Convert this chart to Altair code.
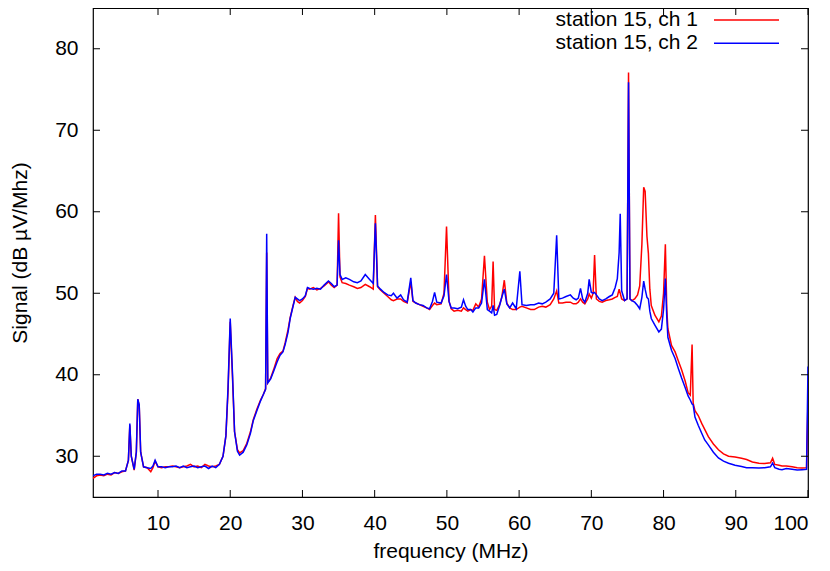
import altair as alt
import pandas as pd

freq = [1.0, 1.5, 2.0, 2.5, 3.0, 3.5, 4.0, 4.5, 5.0, 5.5, 5.9, 6.1, 6.3, 6.7, 7.0, 7.2, 7.4, 7.6,
        8.0, 8.5, 9.0, 9.3, 9.6, 10.0, 10.5, 11.0, 11.5, 12.0, 12.5, 13.0, 13.5, 14.0, 14.5,
        15.0, 15.5, 16.0, 16.5, 17.0, 17.5, 18.0, 18.5, 19.0, 19.4, 19.7, 20.0, 20.3, 20.6,
        21.0, 21.3, 21.8, 22.3, 22.8, 23.2, 23.7, 24.2, 24.6, 24.9, 25.05, 25.2, 25.6, 26.0,
        26.5, 26.9, 27.3, 27.6, 28.0, 28.3, 28.7, 29.0, 29.3, 29.6, 30.0, 30.4, 30.7, 31.0,
        31.5, 32.0, 32.5, 33.0, 33.6, 34.0, 34.4, 34.8, 35.0, 35.2, 35.5, 36.0, 36.5, 37.1,
        37.6, 38.1, 38.7, 39.3, 39.8, 40.1, 40.4, 40.8, 41.3, 41.8, 42.3, 42.6, 43.1, 43.6,
        44.0, 44.5, 45.0, 45.3, 45.7, 46.2, 46.7, 47.2, 47.6, 48.0, 48.3, 48.6, 49.2, 49.6,
        49.95, 50.3, 50.6, 51.0, 51.5, 52.0, 52.3, 52.6, 52.9, 53.3, 53.6, 54.0, 54.4, 54.8,
        55.2, 55.6, 55.9, 56.2, 56.4, 56.6, 56.9, 57.3, 57.6, 57.95, 58.3, 58.7, 59.1, 59.6,
        60.1, 60.4, 61.0, 61.6, 62.1, 62.7, 63.2, 63.7, 64.3, 64.8, 65.2, 65.5, 66.0, 66.5,
        67.1, 67.5, 67.9, 68.2, 68.5, 68.8, 69.1, 69.5, 69.7, 70.0, 70.25, 70.45, 70.7, 71.1,
        71.5, 72.0, 72.5, 72.9, 73.3, 73.6, 73.85, 74.0, 74.2, 74.6, 74.95, 75.15, 75.35,
        75.6, 76.0, 76.4, 76.7, 77.0, 77.25, 77.45, 77.7, 77.9, 78.1, 78.3, 78.8, 79.35,
        79.7, 80.0, 80.25, 80.45, 80.6, 81.1, 81.6, 82.0, 82.5, 83.0, 83.4, 83.7, 83.95,
        84.1, 84.35, 84.8, 85.3, 85.7, 86.2, 86.9, 87.6, 88.3, 89.0, 89.9, 90.8, 91.5, 92.3,
        93.2, 94.0, 94.8, 95.1, 95.4, 96.0, 96.4, 97.0, 97.8, 98.5, 99.2, 99.8, 100.0]

ch1 = [27.3, 27.6, 27.7, 27.6, 27.8, 27.7, 28.0, 27.9, 28.1, 28.2, 29.5, 33.8, 30.0, 28.3, 30.5, 37.0, 36.2, 30.5,
       28.7, 28.6, 28.1, 28.6, 29.4, 28.7, 28.6, 28.7, 28.7, 28.8, 28.7, 28.6, 28.7, 28.8, 29.0,
       28.7, 28.8, 28.6, 29.0, 28.8, 28.7, 28.8, 29.0, 30.0, 32.5, 38.0, 46.5, 40.0, 33.0,
       30.8, 30.4, 30.7, 31.6, 33.0, 34.5, 35.8, 36.9, 37.6, 38.3, 55.0, 39.0, 39.6, 40.6,
       42.0, 42.6, 42.9, 43.9, 45.5, 47.0, 48.5, 49.5, 49.0, 48.8, 49.1, 49.6, 50.6, 50.5,
       50.7, 50.4, 50.6, 50.9, 51.4, 51.0, 50.7, 51.0, 59.8, 52.0, 51.3, 51.2, 51.0, 50.8,
       50.6, 50.7, 51.1, 50.8, 50.5, 59.6, 50.8, 50.4, 50.0, 49.6, 49.2, 49.1, 49.3, 49.3,
       49.0, 48.8, 51.4, 49.0, 48.8, 48.6, 48.4, 48.2, 48.0, 48.5, 48.8, 48.6, 48.7, 50.0,
       58.2, 49.0, 48.1, 47.8, 47.9, 47.8, 48.2, 48.0, 47.8, 48.0, 47.9, 48.7, 48.3, 49.3,
       54.6, 48.9, 48.0, 48.4, 53.9, 48.0, 47.9, 48.6, 49.5, 51.6, 48.8, 48.2, 48.0, 48.0,
       48.3, 48.4, 48.2, 48.0, 48.0, 48.3, 48.4, 48.3, 48.6, 49.3, 50.3, 48.8, 48.8, 48.9,
       48.9, 48.7, 48.7, 48.9, 49.3, 48.9, 48.7, 49.3, 49.9, 49.4, 50.0, 54.7, 49.3, 49.0,
       48.9, 49.1, 49.2, 49.3, 49.5, 49.6, 50.5, 50.0, 49.3, 49.1, 49.3, 77.1, 49.3,
       49.1, 49.3, 49.8, 50.9, 56.0, 63.0, 62.5, 57.0, 54.9, 50.5, 48.5, 47.3, 46.5,
       47.2, 50.0, 56.0, 48.0, 45.65, 43.6, 42.8, 41.8, 40.6, 39.2, 37.8, 37.5, 43.7,
       36.5, 35.6, 35.0, 34.0, 33.3, 32.4, 31.5, 30.8, 30.3, 30.0, 29.9, 29.75, 29.6, 29.3,
       29.15, 29.1, 29.2, 29.75, 29.0, 28.9, 28.8, 28.8, 28.7, 28.6, 28.55, 28.6, 37.0]

ch2 = [27.6, 27.8, 27.8, 27.7, 27.9, 27.8, 28.0, 27.9, 28.2, 28.2, 29.5, 34.0, 30.0, 28.4, 30.5, 37.0, 36.3, 30.5,
       28.7, 28.6, 28.5, 28.8, 29.5, 28.7, 28.7, 28.6, 28.7, 28.7, 28.8, 28.6, 28.8, 28.6, 28.7,
       28.8, 28.6, 28.7, 28.8, 28.5, 28.8, 28.6, 29.0, 30.0, 32.5, 38.5, 46.9, 40.5, 33.0,
       30.6, 30.15, 30.5, 31.4, 32.8, 34.4, 35.6, 36.8, 37.6, 38.2, 57.3, 39.0, 39.5, 40.4,
       41.6, 42.4, 42.8, 43.7, 45.2, 46.9, 48.4, 49.5, 49.3, 49.1, 49.3, 49.7, 50.7, 50.6,
       50.5, 50.6, 50.5, 51.0, 51.5, 51.2, 50.8, 51.0, 56.5, 52.3, 51.7, 51.9, 51.7, 51.4,
       51.3, 51.5, 52.3, 51.7, 51.2, 58.6, 50.9, 50.5, 50.1, 49.8, 49.7, 50.0, 49.4, 49.8,
       49.2, 48.9, 51.9, 49.1, 48.8, 48.6, 48.5, 48.2, 48.1, 49.0, 50.1, 48.9, 48.8, 49.7,
       52.3, 49.0, 48.2, 48.2, 48.1, 48.3, 49.2, 48.4, 48.0, 48.0, 47.7, 48.2, 48.2, 48.8,
       51.7, 48.0, 47.8, 47.6, 48.5, 47.3, 47.4, 48.5, 49.5, 50.5, 48.7, 48.2, 48.8, 48.1,
       52.7, 48.6, 48.5, 48.6, 48.6, 48.8, 48.7, 48.9, 49.3, 50.0, 57.1, 49.3, 49.4, 49.6,
       49.8, 49.4, 49.2, 49.4, 50.6, 49.3, 48.9, 50.0, 51.7, 50.1, 50.0, 50.1, 49.8, 49.3,
       49.1, 49.3, 49.6, 49.8, 50.7, 51.8, 55.0, 59.75, 50.3, 49.1, 49.3, 75.9, 49.3,
       49.1, 48.9, 48.5, 48.1, 49.5, 51.5, 50.5, 49.5, 49.3, 47.8, 46.9, 46.1, 45.25,
       45.6, 48.0, 51.8, 47.0, 44.6, 43.0, 42.0, 40.9, 39.6, 38.4, 37.4, 36.9, 36.4,
       36.3, 34.8, 33.8, 32.8, 32.0, 31.4, 30.5, 29.8, 29.4, 29.15, 28.9, 28.75, 28.6, 28.6,
       28.55, 28.6, 28.7, 29.15, 28.6, 28.4, 28.35, 28.5, 28.4, 28.3, 28.35, 28.4, 41.0]

series_names = ["station 15, ch 1", "station 15, ch 2"]
series_colors = ["#ff0000", "#0000ff"]
x_ticks = [10, 20, 30, 40, 50, 60, 70, 80, 90, 100]
y_ticks = [30, 40, 50, 60, 70, 80]

rows = []
for i, f in enumerate(freq):
    rows.append({"freq": f, "signal": ch1[i], "series": series_names[0], "idx": i})
    rows.append({"freq": f, "signal": ch2[i], "series": series_names[1], "idx": i})
df = pd.DataFrame(rows)

W, H = 715, 489
FONT = "Liberation Sans"
FS = 21

xscale = alt.Scale(domain=[1, 100], nice=False, zero=False)
yscale = alt.Scale(domain=[25, 85], nice=False, zero=False)
cscale = alt.Scale(domain=series_names, range=series_colors)

lines = alt.Chart(df).mark_line(strokeWidth=1.5, clip=True).encode(
    x=alt.X("freq:Q", scale=xscale,
            axis=alt.Axis(title="frequency (MHz)", values=x_ticks, grid=False, ticks=False,
                          domain=False, labelPadding=15, titlePadding=7, format="d")),
    y=alt.Y("signal:Q", scale=yscale,
            axis=alt.Axis(title="Signal (dB µV/Mhz)", values=y_ticks, grid=False, ticks=False,
                          domain=False, labelPadding=15, titlePadding=24, format="d")),
    color=alt.Color("series:N", scale=cscale, legend=None),
    order="idx:Q",
)

xt = pd.DataFrame({"t": x_ticks})
yt = pd.DataFrame({"t": y_ticks})

xt_bottom = alt.Chart(xt).mark_rule(color="#000", strokeWidth=1).encode(
    x=alt.X("t:Q", scale=xscale), y=alt.value(H), y2=alt.value(H - 7))
xt_top = alt.Chart(xt).mark_rule(color="#000", strokeWidth=1).encode(
    x=alt.X("t:Q", scale=xscale), y=alt.value(0), y2=alt.value(7))
yt_left = alt.Chart(yt).mark_rule(color="#000", strokeWidth=1).encode(
    y=alt.Y("t:Q", scale=yscale, axis=None), x=alt.value(0), x2=alt.value(7))
yt_right = alt.Chart(yt).mark_rule(color="#000", strokeWidth=1).encode(
    y=alt.Y("t:Q", scale=yscale, axis=None), x=alt.value(W), x2=alt.value(W - 7))

leg = pd.DataFrame({"series": series_names})
leg_y = alt.Y("series:N", scale=alt.Scale(type="point", padding=0, domain=series_names,
                                         range=[12, 35.3]), axis=None)
leg_text = alt.Chart(leg).mark_text(align="right", baseline="middle", font=FONT,
                                    fontSize=FS, color="#000").encode(
    y=leg_y, x=alt.value(605), text="series:N")
leg_line = alt.Chart(leg).mark_rule(strokeWidth=1.5).encode(
    y=leg_y, x=alt.value(621), x2=alt.value(686),
    color=alt.Color("series:N", scale=cscale, legend=None))

chart = alt.layer(lines, xt_bottom, xt_top, yt_left, yt_right, leg_text, leg_line).resolve_scale(
    y="independent"
).properties(
    width=W, height=H,
    background="white",
    autosize=alt.AutoSizeParams(type="none"),
    padding={"left": 85, "top": 0, "right": 14, "bottom": 66},
).configure(
    view=alt.ViewConfig(stroke="#000", strokeWidth=1.2),
    axis=alt.AxisConfig(labelFont=FONT, labelFontSize=FS, labelColor="#000",
                        titleFont=FONT, titleFontSize=FS, titleColor="#000",
                        titleFontWeight="normal"),
)

chart.save("out.html", embed_options={"renderer": "svg", "actions": False})
